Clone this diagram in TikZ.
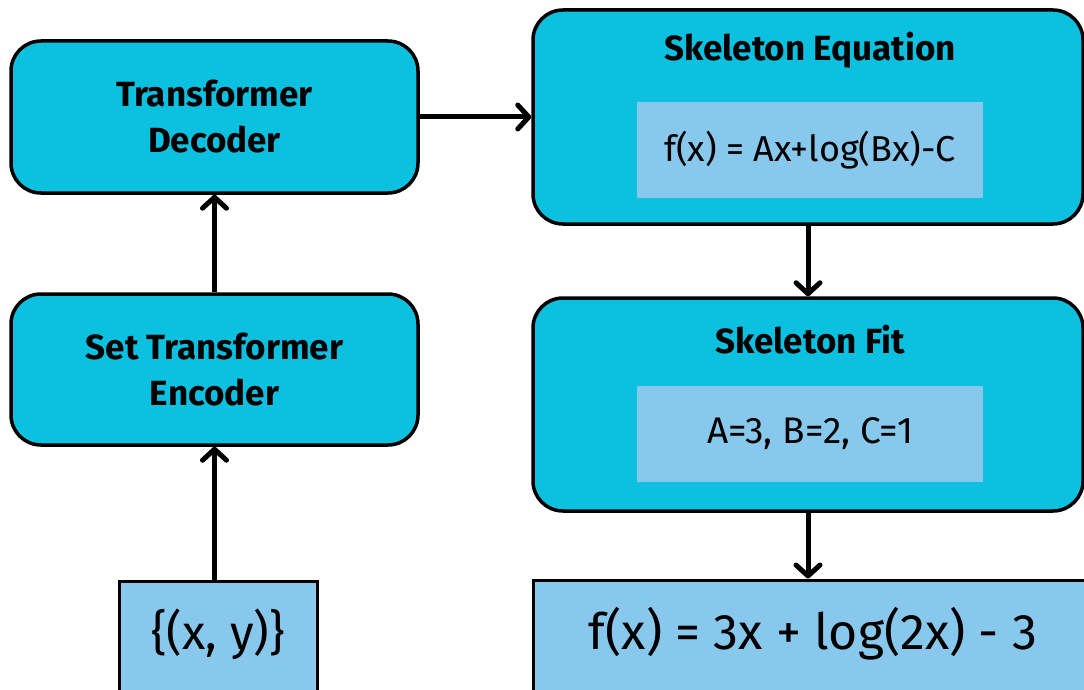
\documentclass[tikz,border=0pt]{standalone}
\usepackage{fontspec}
\setmainfont{Fira Sans}
\usetikzlibrary{arrows.meta}
\definecolor{cyanbox}{HTML}{0CC0DF}
\definecolor{lightbox}{HTML}{87C8EC}
\begin{document}
\begin{tikzpicture}[x=1pt,y=-1pt,
  roundbox/.style={draw=black, line width=3.5pt, fill=cyanbox, rounded corners=30pt, inner sep=0pt, align=center},
  innerbox/.style={fill=lightbox, inner sep=0pt, minimum width=346pt, minimum height=96pt},
  squarebox/.style={draw=black, line width=3pt, fill=lightbox, inner sep=0pt},
  titletext/.style={font=\fontsize{35}{46}\selectfont\bfseries, align=center},
  conn/.style={line width=5pt, -{Straight Barb[round, length=11pt, width=24pt]}}
]
\useasboundingbox (0,0) rectangle (1084,690);
% left column
\node[roundbox, minimum width=407pt, minimum height=152pt, titletext] (dec) at (214.5,117) {Transformer\\Decoder};
\node[roundbox, minimum width=407pt, minimum height=151pt, titletext] (enc) at (214.5,369.5) {Set Transformer\\Encoder};
\node[squarebox, minimum width=198pt, minimum height=124pt] (xy) at (218,643) {};
\node[font=\fontsize{48}{56}\selectfont] (xytext) at (218,634) {\{(x, y)\}};
% right column
\node[roundbox, minimum width=550pt, minimum height=214pt] (skeq) at (808,117) {};
\node[titletext] (skeqtitle) at (810,50) {Skeleton Equation};
\node[innerbox] (skeqin) at (810,150) {};
\node[font=\fontsize{36}{42}\selectfont] (skeqtext) at (810,150) {f(x) = Ax+log(Bx)-C};
\node[roundbox, minimum width=550pt, minimum height=213pt] (skfit) at (808,404.5) {};
\node[titletext] (skfittitle) at (810,340) {Skeleton Fit};
\node[innerbox] (skfitin) at (810,434) {};
\node[font=\fontsize{37}{42}\selectfont] (skfittext) at (810,434) {A=3, B=2, C=1};
\node[squarebox, minimum width=560pt, minimum height=124pt] (res) at (813,642) {};
\node[font=\fontsize{50}{58}\selectfont] (restext) at (813,634) {f(x) = 3x + log(2x) - 3};
% connectors
\draw[conn] (enc.south |- xy.north) -- (enc.south);
\draw[conn] (enc.north) -- (dec.south);
\draw[conn] (dec.east) -- (skeq.west);
\draw[conn] (skeq.south) -- (skfit.north);
\draw[conn] (skfit.south) -- (skfit.south |- res.north);
\end{tikzpicture}
\end{document}
